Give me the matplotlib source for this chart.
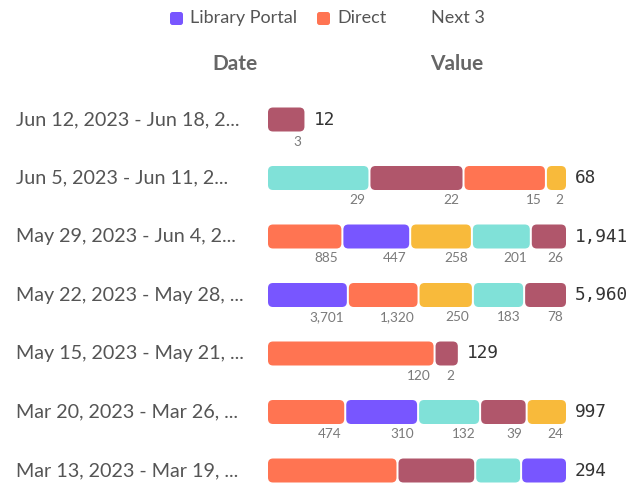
import matplotlib.pyplot as plt
import numpy as np
from matplotlib.patches import FancyBboxPatch

# Zeilen (oben nach unten)
dates = ["Jun 12, 2023 - Jun 18, 2...",
         "Jun 5, 2023 - Jun 11, 2...",
         "May 29, 2023 - Jun 4, 2...",
         "May 22, 2023 - May 28, ...",
         "May 15, 2023 - May 21, ...",
         "Mar 20, 2023 - Mar 26, ...",
         "Mar 13, 2023 - Mar 19, ..."]

# Werte je Serie (0 = nicht vorhanden)
direct = [0, 15, 885, 1320, 120, 474, 253]
other_a = [3, 22, 26, 78, 2, 39, 27]
other_b = [0, 29, 201, 183, 0, 132, 7]
library_portal = [0, 0, 447, 3701, 0, 310, 7]
other_c = [0, 2, 258, 250, 0, 24, 0]
totals = [12, 68, 1941, 5960, 129, 997, 294]

series = [("Direct", direct, "#FF7452"),
          ("Other A", other_a, "#B0566B"),
          ("Other B", other_b, "#80E1D8"),
          ("Library Portal", library_portal, "#7856FF"),
          ("Other C", other_c, "#F8BA3B")]

legend_items = [("Library Portal", "#7856FF"), ("Direct", "#FF7452")]

W, H = 633, 486
fig = plt.figure(figsize=(W / 100, H / 100), dpi=100)
px = 1 / 58.5   # Zeilenabstand in Pixel -> Zeileneinheiten
ax = fig.add_axes([268 / W, 0, 365 / W, 396 / H])
ax.set_xlim(0, 365)
ax.set_ylim((486 - 119.5) * px, (90 - 119.5) * px)
ax.axis("off")

span = 300      # volle Balkenbreite
max_scale = 35  # max. Pixel pro log-Einheit
gap = 2
bar_h = 24 * px

for i in range(len(dates)):
    segs = [(name, vals[i], col) for name, vals, col in series if vals[i] > 0]
    segs = sorted(segs, key=lambda s: -s[1])
    logs = np.log([s[1] for s in segs])
    scale = min(max_scale, span / logs.sum())
    left = 0
    for (name, v, col), lg in zip(segs, logs):
        w = lg * scale
        bars = ax.barh(i, w - gap, left=left, height=bar_h, color=col)
        r = bars[0]
        r.set_visible(False)
        ax.add_patch(FancyBboxPatch((r.get_x(), r.get_y()), r.get_width(), r.get_height(),
                                    boxstyle="round,pad=0,rounding_size=5",
                                    mutation_aspect=px, facecolor=col, edgecolor="none"))
        ax.text(left + w - gap - 3, i + 22 * px, f"{v:,}", ha="right", va="center",
                fontsize=9.8, color="#7a7a7a", family="Lato", clip_on=False)
        left += w
    ax.text(left + 7, i, f"{totals[i]:,}", ha="left", va="center", fontsize=12.8,
            color="#333333", family="DejaVu Sans Mono", clip_on=False)
    ax.text(16 - 268, i, dates[i], ha="left", va="center", fontsize=14.2,
            color="#555555", family="Lato", clip_on=False)

# Kopfzeile
fig.text(235 / W, 1 - 64 / H, "Date", ha="center", va="center", fontsize=15,
         fontweight="bold", color="#666666", family="Lato")
fig.text(457 / W, 1 - 64 / H, "Value", ha="center", va="center", fontsize=15,
         fontweight="bold", color="#666666", family="Lato")

# Legende
lx = [170, 317]
for (lab, col), x0 in zip(legend_items, lx):
    fig.patches.append(FancyBboxPatch((x0 / W, 1 - 25 / H), 13 / W, 13 / H,
                                      boxstyle="round,pad=0,rounding_size=0.004",
                                      transform=fig.transFigure, facecolor=col,
                                      edgecolor="none", mutation_aspect=W / H))
    fig.text((x0 + 20) / W, 1 - 18 / H, lab, ha="left", va="center", fontsize=13,
             color="#555555", family="Lato")
fig.text(431 / W, 1 - 18 / H, "Next 3", ha="left", va="center", fontsize=13,
         color="#555555", family="Lato")

fig.savefig("out.png", dpi=100)
